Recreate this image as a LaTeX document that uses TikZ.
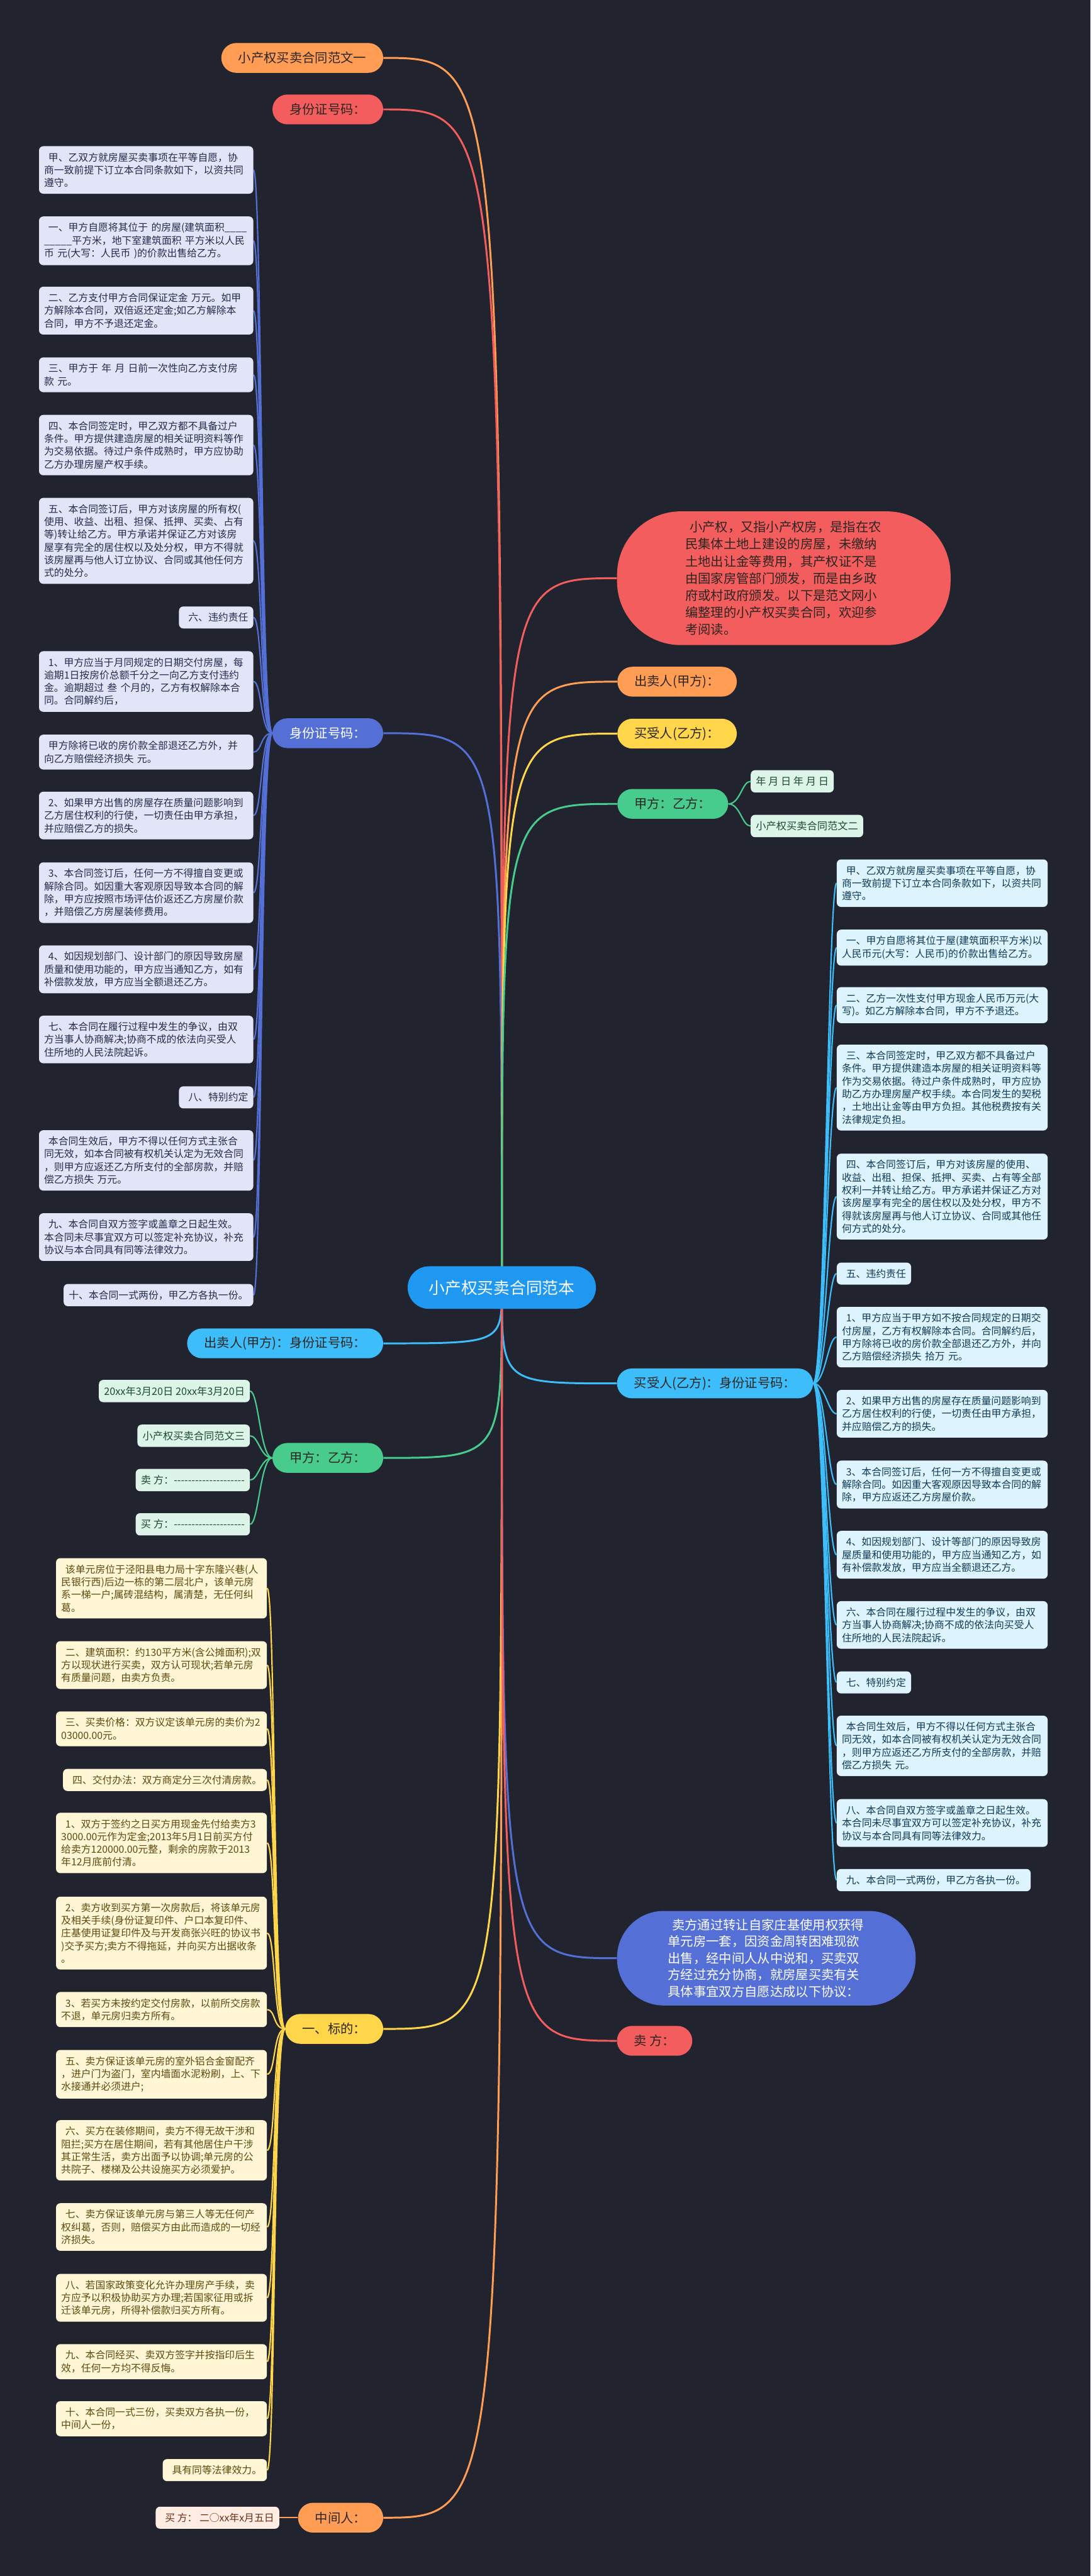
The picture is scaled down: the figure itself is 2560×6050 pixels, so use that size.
\documentclass[tikz,border=0pt]{standalone}
\usepackage{fontspec}
\setmainfont{Noto Sans CJK SC}
\usetikzlibrary{positioning, backgrounds}
\definecolor{canvas}{HTML}{21242F}
\definecolor{hubblue}{HTML}{1E98F0}
\definecolor{mmorange}{HTML}{FF9D55}
\definecolor{mmred}{HTML}{F45D5D}
\definecolor{mmblue}{HTML}{5470D6}
\definecolor{mmsky}{HTML}{3DBEFA}
\definecolor{mmgreen}{HTML}{48CC8E}
\definecolor{mmyellow}{HTML}{FFD54A}
\definecolor{lavfill}{HTML}{E2E5F8}
\definecolor{lavtext}{HTML}{252B4D}
\definecolor{skyfill}{HTML}{DDF3FD}
\definecolor{skytext}{HTML}{0F3B57}
\definecolor{mintfill}{HTML}{DDF5E8}
\definecolor{minttext}{HTML}{1D4A32}
\definecolor{creamfill}{HTML}{FFF6D6}
\definecolor{creamtext}{HTML}{5E4A0E}
\definecolor{peachfill}{HTML}{FFEDE4}
\definecolor{peachtext}{HTML}{6A2E12}
\definecolor{darkink}{HTML}{2B2622}
\newcommand{\ind}{\hspace*{5pt}}

\begin{document}
\begin{tikzpicture}[
  x=0.5pt, y=-0.5pt,
  hub/.style={fill=hubblue, text=white, rounded corners=25pt,
    minimum height=50pt, inner xsep=25pt, font=\fontsize{19}{23}\selectfont},
  pill/.style={rounded corners=17.5pt, minimum height=35pt, inner xsep=20pt,
    inner ysep=0pt, font=\fontsize{15}{18}\selectfont},
  bigpill/.style={align=left, inner sep=0pt, text width=231pt},
  kid/.style={rounded corners=5pt, inner xsep=6pt, inner ysep=7.5pt,
    font=\fontsize{11.7}{15}\selectfont, align=left},
  lav/.style={kid, fill=lavfill, text=lavtext, anchor=north east},
  sky/.style={kid, fill=skyfill, text=skytext, anchor=north west},
  cream/.style={kid, fill=creamfill, text=creamtext, anchor=north east},
  mint/.style={kid, fill=mintfill, text=minttext, font=\fontsize{12}{15}\selectfont},
  wide/.style={text width=#1},
  hubedge/.style={line width=2.2pt, to path={.. controls (\tikztostart |- \tikztotarget)
    and (\tikztostart |- \tikztotarget) .. (\tikztotarget)}},
  tol/.style={line width=1.6pt, to path={.. controls ([xshift=-14pt]\tikztostart)
    and ([xshift=10pt]\tikztotarget) .. (\tikztotarget)}},
  tor/.style={line width=1.6pt, to path={.. controls ([xshift=14pt]\tikztostart)
    and ([xshift=-10pt]\tikztotarget) .. (\tikztotarget)}}
]
  % Centre
  \node[hub] (main) at (1178,3024) {小产权买卖合同范本};

  % Left branches
  \node[pill, fill=mmorange, text=darkink, anchor=east] (fan1) at (900,136) {小产权买卖合同范文一};
  \node[pill, fill=mmred, text=darkink, anchor=east] (idtop) at (900,257) {身份证号码：};
  \node[pill, fill=mmblue, text=white, anchor=east] (idb) at (900,1722) {身份证号码：};
  \node[pill, fill=mmsky, text=darkink, anchor=east] (sellid) at (900,3155) {出卖人(甲方)：身份证号码：};
  \node[pill, fill=mmgreen, text=darkink, anchor=east] (gl) at (900,3424) {甲方：乙方：};
  \node[pill, fill=mmyellow, text=darkink, anchor=east] (biao) at (900,4765) {一、标的：};
  \node[pill, fill=mmorange, text=darkink, anchor=east] (mid) at (900,5913) {中间人：};

  % Right branches
  \node[bigpill, fill=mmred, text=darkink, minimum width=391.5pt, minimum height=157pt,
    rounded corners=75pt, font=\fontsize{15}{20}\selectfont] (intro) at (1840,1358)
    {\ind 小产权，又指小产权房，是指在农\\民集体土地上建设的房屋，未缴纳\\土地出让金等费用，其产权证不是\\由国家房管部门颁发，而是由乡政\\府或村政府颁发。以下是范文网小\\编整理的小产权买卖合同，欢迎参\\考阅读。};
  \node[pill, fill=mmorange, text=darkink, anchor=west] (seller) at (1449,1601) {出卖人(甲方)：};
  \node[pill, fill=mmyellow, text=darkink, anchor=west] (buyer) at (1449,1723) {买受人(乙方)：};
  \node[pill, fill=mmgreen, text=darkink, anchor=west] (gr) at (1449,1888) {甲方：乙方：};
  \node[pill, fill=mmsky, text=darkink, anchor=west] (buyid) at (1448,3249) {买受人(乙方)：身份证号码：};
  \node[bigpill, fill=mmblue, text=white, minimum width=350.5pt, minimum height=111pt,
    rounded corners=55pt, font=\fontsize{15}{19.5}\selectfont] (deal) at (1799,4599)
    {\ind 卖方通过转让自家庄基使用权获得\\单元房一套，因资金周转困难现欲\\出售，经中间人从中说和，买卖双\\方经过充分协商，就房屋买卖有关\\具体事宜双方自愿达成以下协议：};
  \node[pill, fill=mmred, text=darkink, anchor=west] (sell) at (1448,4793) {卖 方：};

  % Contract one (left)
  \node[lav, wide=239.5pt] (l1) at (595,343) {\ind 甲、乙双方就房屋买卖事项在平等自愿，协\\商一致前提下订立本合同条款如下，以资共同\\遵守。};
  \node[lav, wide=239.5pt] (l2) at (595,508) {\ind 一、甲方自愿将其位于 的房屋(建筑面积\_\_\_\_\\\_\_\_\_\_平方米，地下室建筑面积 平方米以人民\\币 元(大写：人民币 )的价款出售给乙方。};
  \node[lav, wide=239.5pt] (l3) at (595,673) {\ind 二、乙方支付甲方合同保证定金 万元。如甲\\方解除本合同，双倍返还定金;如乙方解除本\\合同，甲方不予退还定金。};
  \node[lav, wide=239.5pt] (l4) at (595,839) {\ind 三、甲方于 年 月 日前一次性向乙方支付房\\款 元。};
  \node[lav, wide=239.5pt] (l5) at (595,974) {\ind 四、本合同签定时，甲乙双方都不具备过户\\条件。甲方提供建造房屋的相关证明资料等作\\为交易依据。待过户条件成熟时，甲方应协助\\乙方办理房屋产权手续。};
  \node[lav, wide=239.5pt] (l6) at (595,1169) {\ind 五、本合同签订后，甲方对该房屋的所有权(\\使用、收益、出租、担保、抵押、买卖、占有\\等)转让给乙方。甲方承诺并保证乙方对该房\\屋享有完全的居住权以及处分权，甲方不得就\\该房屋再与他人订立协议、合同或其他任何方\\式的处分。};
  \node[lav] (l7) at (595,1424) {\ind 六、违约责任};
  \node[lav, wide=239.5pt] (l8) at (595,1529) {\ind 1、甲方应当于月同规定的日期交付房屋，每\\逾期1日按房价总额千分之一向乙方支付违约\\金。逾期超过 叁 个月的，乙方有权解除本合\\同。合同解约后，};
  \node[lav, wide=239.5pt] (l9) at (595,1725) {\ind 甲方除将已收的房价款全部退还乙方外，并\\向乙方赔偿经济损失 元。};
  \node[lav, wide=239.5pt] (l10) at (595,1859) {\ind 2、如果甲方出售的房屋存在质量问题影响到\\乙方居住权利的行使，一切责任由甲方承担，\\并应赔偿乙方的损失。};
  \node[lav, wide=239.5pt] (l11) at (595,2025) {\ind 3、本合同签订后，任何一方不得擅自变更或\\解除合同。如因重大客观原因导致本合同的解\\除，甲方应按照市场评估价返还乙方房屋价款\\，并赔偿乙方房屋装修费用。};
  \node[lav, wide=239.5pt] (l12) at (595,2220) {\ind 4、如因规划部门、设计部门的原因导致房屋\\质量和使用功能的，甲方应当通知乙方，如有\\补偿款发放，甲方应当全额退还乙方。};
  \node[lav, wide=239.5pt] (l13) at (595,2385) {\ind 七、本合同在履行过程中发生的争议，由双\\方当事人协商解决;协商不成的依法向买受人\\住所地的人民法院起诉。};
  \node[lav] (l14) at (595,2551) {\ind 八、特别约定};
  \node[lav, wide=239.5pt] (l15) at (595,2654) {\ind 本合同生效后，甲方不得以任何方式主张合\\同无效，如本合同被有权机关认定为无效合同\\，则甲方应返还乙方所支付的全部房款，并赔\\偿乙方损失 万元。};
  \node[lav, wide=239.5pt] (l16) at (595,2849) {\ind 九、本合同自双方签字或盖章之日起生效。\\本合同未尽事宜双方可以签定补充协议，补充\\协议与本合同具有同等法律效力。};
  \node[lav] (l17) at (595,3015) {十、本合同一式两份，甲乙方各执一份。};

  % Parties (left)
  \node[mint, anchor=east] (g1) at (587,3267) {20xx年3月20日 20xx年3月20日};
  \node[mint, anchor=east] (g2) at (587,3372) {小产权买卖合同范文三};
  \node[mint, anchor=east] (g3) at (587,3476) {卖 方：-{}-{}-{}-{}-{}-{}-{}-{}-{}-{}-{}-{}-{}-{}-{}-{}-{}-{}-{}-};
  \node[mint, anchor=east] (g4) at (587,3580) {买 方：-{}-{}-{}-{}-{}-{}-{}-{}-{}-{}-{}-{}-{}-{}-{}-{}-{}-{}-{}-};

  % Parties (right)
  \node[mint, anchor=west] (gr1) at (1762,1835) {年 月 日 年 月 日};
  \node[mint, anchor=west] (gr2) at (1762,1940) {小产权买卖合同范文二};

  % Contract two (right)
  \node[sky, wide=235.5pt] (r1) at (1964,2018) {\ind 甲、乙双方就房屋买卖事项在平等自愿，协\\商一致前提下订立本合同条款如下，以资共同\\遵守。};
  \node[sky, wide=235.5pt] (r2) at (1964,2183) {\ind 一、甲方自愿将其位于屋(建筑面积平方米)以\\人民币元(大写：人民币)的价款出售给乙方。};
  \node[sky, wide=235.5pt] (r3) at (1964,2318) {\ind 二、乙方一次性支付甲方现金人民币万元(大\\写)。如乙方解除本合同，甲方不予退还。};
  \node[sky, wide=235.5pt] (r4) at (1964,2453) {\ind 三、本合同签定时，甲乙双方都不具备过户\\条件。甲方提供建造本房屋的相关证明资料等\\作为交易依据。待过户条件成熟时，甲方应协\\助乙方办理房屋产权手续。本合同发生的契税\\，土地出让金等由甲方负担。其他税费按有关\\法律规定负担。};
  \node[sky, wide=235.5pt] (r5) at (1964,2709) {\ind 四、本合同签订后，甲方对该房屋的使用、\\收益、出租、担保、抵押、买卖、占有等全部\\权利一并转让给乙方。甲方承诺并保证乙方对\\该房屋享有完全的居住权以及处分权，甲方不\\得就该房屋再与他人订立协议、合同或其他任\\何方式的处分。};
  \node[sky] (r6) at (1964,2965) {\ind 五、违约责任};
  \node[sky, wide=235.5pt] (r7) at (1964,3069) {\ind 1、甲方应当于甲方如不按合同规定的日期交\\付房屋，乙方有权解除本合同。合同解约后，\\甲方除将已收的房价款全部退还乙方外，并向\\乙方赔偿经济损失 拾万 元。};
  \node[sky, wide=235.5pt] (r8) at (1964,3264) {\ind 2、如果甲方出售的房屋存在质量问题影响到\\乙方居住权利的行使，一切责任由甲方承担，\\并应赔偿乙方的损失。};
  \node[sky, wide=235.5pt] (r9) at (1964,3430) {\ind 3、本合同签订后，任何一方不得擅自变更或\\解除合同。如因重大客观原因导致本合同的解\\除，甲方应返还乙方房屋价款。};
  \node[sky, wide=235.5pt] (r10) at (1964,3595) {\ind 4、如因规划部门、设计等部门的原因导致房\\屋质量和使用功能的，甲方应当通知乙方，如\\有补偿款发放，甲方应当全额退还乙方。};
  \node[sky, wide=235.5pt] (r11) at (1964,3760) {\ind 六、本合同在履行过程中发生的争议，由双\\方当事人协商解决;协商不成的依法向买受人\\住所地的人民法院起诉。};
  \node[sky] (r12) at (1964,3925) {\ind 七、特别约定};
  \node[sky, wide=235.5pt] (r13) at (1964,4029) {\ind 本合同生效后，甲方不得以任何方式主张合\\同无效，如本合同被有权机关认定为无效合同\\，则甲方应返还乙方所支付的全部房款，并赔\\偿乙方损失 元。};
  \node[sky, wide=235.5pt] (r14) at (1964,4225) {\ind 八、本合同自双方签字或盖章之日起生效。\\本合同未尽事宜双方可以签定补充协议，补充\\协议与本合同具有同等法律效力。};
  \node[sky] (r15) at (1964,4389) {\ind 九、本合同一式两份，甲乙方各执一份。};

  % Subject clauses (bottom left)
  \node[cream, wide=235.5pt] (y1) at (627,3659) {\ind 该单元房位于泾阳县电力局十字东隆兴巷(人\\民银行西)后边一栋的第二层北户，该单元房\\系一梯一户;属砖混结构，属清楚，无任何纠\\葛。};
  \node[cream, wide=235.5pt] (y2) at (627,3854) {\ind 二、建筑面积：约130平方米(含公摊面积);双\\方以现状进行买卖，双方认可现状;若单元房\\有质量问题，由卖方负责。};
  \node[cream, wide=235.5pt] (y3) at (627,4019) {\ind 三、买卖价格：双方议定该单元房的卖价为2\\03000.00元。};
  \node[cream] (y4) at (627,4154) {\ind 四、交付办法：双方商定分三次付清房款。};
  \node[cream, wide=235.5pt] (y5) at (627,4257) {\ind 1、双方于签约之日买方用现金先付给卖方3\\3000.00元作为定金;2013年5月1日前买方付\\给卖方120000.00元整，剩余的房款于2013\\年12月底前付清。};
  \node[cream, wide=235.5pt] (y6) at (627,4454) {\ind 2、卖方收到买方第一次房款后，将该单元房\\及相关手续(身份证复印件、户口本复印件、\\庄基使用证复印件及与开发商张兴旺的协议书\\)交予买方;卖方不得拖延，并向买方出据收条\\。};
  \node[cream, wide=235.5pt] (y7) at (627,4678) {\ind 3、若买方未按约定交付房款，以前所交房款\\不退，单元房归卖方所有。};
  \node[cream, wide=235.5pt] (y8) at (627,4814) {\ind 五、卖方保证该单元房的室外铝合金窗配齐\\，进户门为盗门，室内墙面水泥粉刷，上、下\\水接通并必须进户;};
  \node[cream, wide=235.5pt] (y9) at (627,4979) {\ind 六、买方在装修期间，卖方不得无故干涉和\\阻拦;买方在居住期间，若有其他居住户干涉\\其正常生活，卖方出面予以协调;单元房的公\\共院子、楼梯及公共设施买方必须爱护。};
  \node[cream, wide=235.5pt] (y10) at (627,5174) {\ind 七、卖方保证该单元房与第三人等无任何产\\权纠葛，否则，赔偿买方由此而造成的一切经\\济损失。};
  \node[cream, wide=235.5pt] (y11) at (627,5340) {\ind 八、若国家政策变化允许办理房产手续，卖\\方应予以积极协助买方办理;若国家征用或拆\\迁该单元房，所得补偿款归买方所有。};
  \node[cream, wide=235.5pt] (y12) at (627,5505) {\ind 九、本合同经买、卖双方签字并按指印后生\\效，任何一方均不得反悔。};
  \node[cream, wide=235.5pt] (y13) at (627,5639) {\ind 十、本合同一式三份，买卖双方各执一份，\\中间人一份，};
  \node[cream] (y14) at (627,5775) {\ind 具有同等法律效力。};

  % Witness
  \node[kid, fill=peachfill, text=peachtext, anchor=east] (wit) at (656,5913) {\ind 买 方： 二○xx年x月五日};

  % Connectors, behind the nodes
  \begin{pgfonlayer}{background}
    \fill[canvas] (0,0) rectangle (2560,6050);
    \draw[hubedge, mmorange] (main.center) to (fan1.east);
    \draw[hubedge, mmred] (main.center) to (idtop.east);
    \draw[hubedge, mmblue] (main.center) to (idb.east);
    \draw[hubedge, mmsky] (main.center) to (sellid.east);
    \draw[hubedge, mmgreen] (main.center) to (gl.east);
    \draw[hubedge, mmyellow] (main.center) to (biao.east);
    \draw[hubedge, mmorange] (main.center) to (mid.east);
    \draw[hubedge, mmred] (main.center) to (intro.west);
    \draw[hubedge, mmorange] (main.center) to (seller.west);
    \draw[hubedge, mmyellow] (main.center) to (buyer.west);
    \draw[hubedge, mmgreen] (main.center) to (gr.west);
    \draw[hubedge, mmsky] (main.center) to (buyid.west);
    \draw[hubedge, mmblue] (main.center) to (deal.west);
    \draw[hubedge, mmred] (main.center) to (sell.west);

    \foreach \k in {l1,l2,l3,l4,l5,l6,l7,l8,l9,l10,l11,l12,l13,l14,l15,l16,l17}
      \draw[tol, mmblue] (idb.west) to (\k.east);
    \foreach \k in {g1,g2,g3,g4}
      \draw[tol, mmgreen] (gl.west) to (\k.east);
    \foreach \k in {y1,y2,y3,y4,y5,y6,y7,y8,y9,y10,y11,y12,y13,y14}
      \draw[tol, mmyellow] (biao.west) to (\k.east);
    \draw[line width=1.6pt, mmorange] (mid.west) -- (wit.east);
    \foreach \k in {gr1,gr2}
      \draw[tor, mmgreen] (gr.east) to (\k.west);
    \foreach \k in {r1,r2,r3,r4,r5,r6,r7,r8,r9,r10,r11,r12,r13,r14,r15}
      \draw[tor, mmsky] (buyid.east) to (\k.west);
  \end{pgfonlayer}
\end{tikzpicture}
\end{document}
